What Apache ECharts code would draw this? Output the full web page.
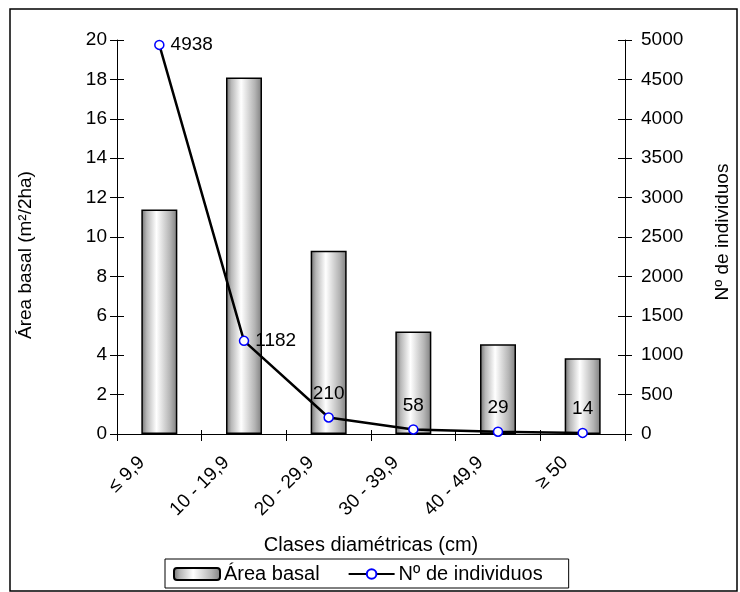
<!DOCTYPE html>
<html>
<head>
<meta charset="utf-8">
<script src="https://cdn.jsdelivr.net/npm/echarts@6/dist/echarts.min.js"></script>
<style>
html, body { margin: 0; padding: 0; background: #fff; }
#main { width: 740px; height: 592px; }
</style>
</head>
<body>
<div id="main"></div>
<script>
var clases = ['≤ 9,9', '10 - 19,9', '20 - 29,9', '30 - 39,9', '40 - 49,9', '≥ 50'];
var areaBasal = [11.4, 18.1, 9.3, 5.2, 4.55, 3.85];
var individuos = [4938, 1182, 210, 58, 29, 14];
var labelPos = ['right', 'right', 'top', 'top', 'top', 'top'];

var font = 'Liberation Sans, Arial, sans-serif';
var narrow = 'Liberation Sans Narrow, Liberation Sans, sans-serif';

// gradiente tipo cilindro de las barras
var barColor = {
	type: 'linear', x: 0, y: 0, x2: 1, y2: 0,
	colorStops: [
		{ offset: 0, color: '#6e6e6e' },
		{ offset: 0.15, color: '#b8b8b8' },
		{ offset: 0.42, color: '#ffffff' },
		{ offset: 0.8, color: '#b4b4b4' },
		{ offset: 1, color: '#7e7e7e' }
	]
};

var lineData = individuos.map(function(v, i) {
	return {
		value: v,
		label: { position: labelPos[i], distance: labelPos[i] == 'right' ? 6 : 9 }
	};
});

function tickAxis(pos, max, interval) {
	return {
		type: 'value', position: pos, min: 0, max: max, interval: interval,
		axisLine: { show: false },
		axisTick: { show: true, inside: true, length: 7, lineStyle: { color: '#000' } },
		axisLabel: { show: false },
		splitLine: { show: false }
	};
}

var myChart = echarts.init(document.getElementById('main'));
var option = {
	animation: false,
	textStyle: { fontFamily: font, color: '#000' },
	grid: { left: 117, right: 98, top: 40, bottom: 158 },
	graphic: [{
		type: 'rect',
		shape: { x: 10, y: 9, width: 727, height: 582 },
		style: { fill: 'none', stroke: '#000', lineWidth: 1.5 }
	}],
	legend: {
		left: 165, top: 559,
		padding: [5, 26, 4, 8],
		borderColor: '#000', borderWidth: 1,
		itemWidth: 46, itemHeight: 12, itemGap: 28,
		textStyle: { fontFamily: font, fontSize: 20, color: '#000', padding: [0, 0, 0, -1] },
		data: ['Área basal', 'Nº de individuos']
	},
	xAxis: [{
		type: 'category',
		data: clases,
		name: 'Clases diamétricas (cm)',
		nameLocation: 'middle',
		nameGap: 101,
		nameTextStyle: { fontFamily: font, fontSize: 20, color: '#000' },
		axisLine: { lineStyle: { color: '#000', width: 1 } },
		axisTick: { show: true, length: 7, lineStyle: { color: '#000' } },
		axisLabel: { rotate: 45, margin: 8, padding: [0, 25, 0, 0], fontSize: 19, color: '#000', fontFamily: font },
		splitLine: { show: false }
	}, {
		type: 'category',
		data: clases,
		position: 'bottom',
		axisLine: { show: false },
		axisTick: { show: true, inside: true, length: 4, lineStyle: { color: '#000' } },
		axisLabel: { show: false }
	}],
	yAxis: [{
		type: 'value', position: 'left', min: 0, max: 20, interval: 2,
		name: 'Área basal (m²/2ha)',
		nameLocation: 'middle', nameRotate: 90, nameGap: 82,
		nameTextStyle: { fontFamily: narrow, fontSize: 19, color: '#000', padding: [0, 36, 0, 0] },
		axisLine: { show: true, lineStyle: { color: '#000', width: 1 } },
		axisTick: { show: true, length: 7, lineStyle: { color: '#000' } },
		axisLabel: { margin: 10, fontSize: 19, color: '#000', fontFamily: font },
		splitLine: { show: false }
	}, {
		type: 'value', position: 'right', min: 0, max: 5000, interval: 500,
		name: 'Nº de individuos',
		nameLocation: 'middle', nameRotate: 90, nameGap: 88,
		nameTextStyle: { fontFamily: narrow, fontSize: 19, color: '#000', padding: [0, 0, 0, 10] },
		axisLine: { show: true, lineStyle: { color: '#000', width: 1 } },
		axisTick: { show: true, length: 7, lineStyle: { color: '#000' } },
		axisLabel: { margin: 16, fontSize: 19, color: '#000', fontFamily: font, formatter: function(v) { return String(v); } },
		splitLine: { show: false }
	},
	tickAxis('left', 20, 2),
	tickAxis('right', 5000, 500)],
	series: [{
		name: 'Área basal',
		type: 'bar',
		yAxisIndex: 0,
		barWidth: 36,
		itemStyle: { color: barColor, borderColor: '#000', borderWidth: 1.5 },
		data: areaBasal
	}, {
		name: 'Nº de individuos',
		type: 'line',
		yAxisIndex: 1,
		z: 5,
		symbol: 'circle',
		symbolSize: 9,
		lineStyle: { color: '#000', width: 2.5 },
		itemStyle: { color: '#fff', borderColor: '#0000ff', borderWidth: 1.5 },
		label: { show: true, fontSize: 19, color: '#000', fontFamily: font },
		data: lineData
	}]
};
myChart.setOption(option);
</script>
</body>
</html>
